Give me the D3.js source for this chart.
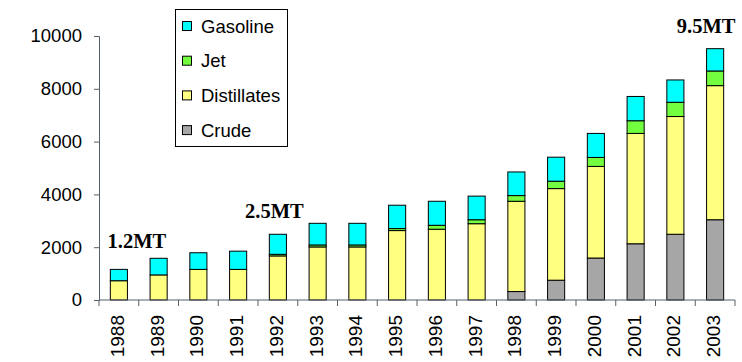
<!doctype html>
<html>
<head>
<meta charset="utf-8">
<script src="https://cdnjs.cloudflare.com/ajax/libs/d3/7.8.5/d3.min.js"></script>
<style>
  body { margin: 0; background: #fff; }
  svg { display: block; font-family: "Liberation Sans", Arial, sans-serif; }
</style>
</head>
<body>
<svg id="chart" width="742" height="362"></svg>
<script>
var years = ["1988","1989","1990","1991","1992","1993","1994","1995","1996","1997","1998","1999","2000","2001","2002","2003"];
var crude       = [0, 0, 0, 0, 0, 0, 0, 0, 0, 0, 320, 750, 1590, 2130, 2490, 3040];
var distillates = [730, 950, 1160, 1160, 1670, 2010, 2010, 2630, 2680, 2890, 3420, 3470, 3470, 4180, 4460, 5080];
var jet         = [0, 0, 0, 0, 60, 75, 75, 75, 150, 150, 215, 280, 340, 480, 540, 555];
var gasoline    = [430, 630, 630, 690, 760, 820, 820, 885, 910, 895, 895, 910, 910, 920, 845, 845];
var yTicks = [0, 2000, 4000, 6000, 8000, 10000];
var noteYears = ["1988", "1992", "2003"];
var noteTexts = ["1.2MT", "2.5MT", "9.5MT"];

var seriesNames = ["Crude", "Distillates", "Jet", "Gasoline"];
var colors = {Crude: "#a6a6a6", Distillates: "#ffff80", Jet: "#73ff40", Gasoline: "#00ffff"};

var table = years.map(function(y, i) {
  return {year: y, Crude: crude[i], Distillates: distillates[i], Jet: jet[i], Gasoline: gasoline[i]};
});
var stacked = d3.stack().keys(seriesNames)(table);

var svg = d3.select("#chart");
var x = d3.scaleBand().domain(years).range([99, 735]).paddingInner(0.57).paddingOuter(0.285);
var y = d3.scaleLinear().domain([0, 10000]).range([300, 36]);
var mid = d => x(d) + x.bandwidth() / 2;

// bars
svg.append("g").selectAll("g")
  .data(stacked)
  .enter().append("g")
    .attr("fill", d => colors[d.key])
  .selectAll("rect")
  .data(d => d.filter(p => p[1] - p[0] > 0))
  .enter().append("rect")
    .attr("x", d => x(d.data.year))
    .attr("width", x.bandwidth())
    .attr("y", d => y(d[1]))
    .attr("height", d => y(d[0]) - y(d[1]))
    .attr("stroke", "#000")
    .attr("stroke-width", 1);

// y axis
var yAxis = svg.append("g")
  .attr("transform", "translate(99,0)")
  .call(d3.axisLeft(y).tickValues(yTicks).tickSize(5).tickPadding(12).tickFormat(d3.format("d")));
yAxis.selectAll("text").attr("font-size", 18.5).attr("fill", "#000").attr("font-family", "Liberation Sans, Arial, sans-serif");
yAxis.selectAll("line, path").attr("stroke", "#55606a");

// x axis
var step = x.step();
var xg = svg.append("g");
xg.append("line").attr("x1", 99).attr("x2", 735).attr("y1", 300).attr("y2", 300).attr("stroke", "#55606a");
var bounds = years.map(d => x(d) - (step - x.bandwidth()) / 2).concat([735]);
xg.selectAll(".tk").data(bounds).enter().append("line")
  .attr("x1", d => d).attr("x2", d => d).attr("y1", 300).attr("y2", 306).attr("stroke", "#55606a");
xg.selectAll(".lbl").data(years).enter().append("text")
  .attr("transform", d => "translate(" + (mid(d) + 5) + ",315) rotate(-90)")
  .attr("text-anchor", "end")
  .attr("font-size", 19)
  .attr("fill", "#000")
  .text(d => d);

// annotations
var noteDx = [18, -3.5, -9];
var noteY = [248, 218, 33];
svg.selectAll(".note").data(noteYears).enter().append("text")
  .attr("x", (d, i) => mid(d) + noteDx[i])
  .attr("y", (d, i) => noteY[i])
  .attr("text-anchor", "middle")
  .attr("font-family", "Liberation Serif, Times New Roman, serif")
  .attr("font-weight", "bold")
  .attr("font-size", 20.5)
  .text((d, i) => noteTexts[i]);

// legend
var legend = svg.append("g");
legend.append("rect").attr("x", 175.5).attr("y", 9.5).attr("width", 112).attr("height", 137)
  .attr("fill", "#fff").attr("stroke", "#000");
var items = seriesNames.slice().reverse();
var li = legend.selectAll(".li").data(items).enter().append("g")
  .attr("transform", (d, i) => "translate(182," + (26 + i * 34.7) + ")");
li.append("rect").attr("x", 0.5).attr("y", -4.5).attr("width", 9).attr("height", 9)
  .attr("fill", d => colors[d]).attr("stroke", "#000");
li.append("text").attr("x", 19).attr("y", 6.5).attr("font-size", 18.5).attr("fill", "#000").text(d => d);
</script>
</body>
</html>
